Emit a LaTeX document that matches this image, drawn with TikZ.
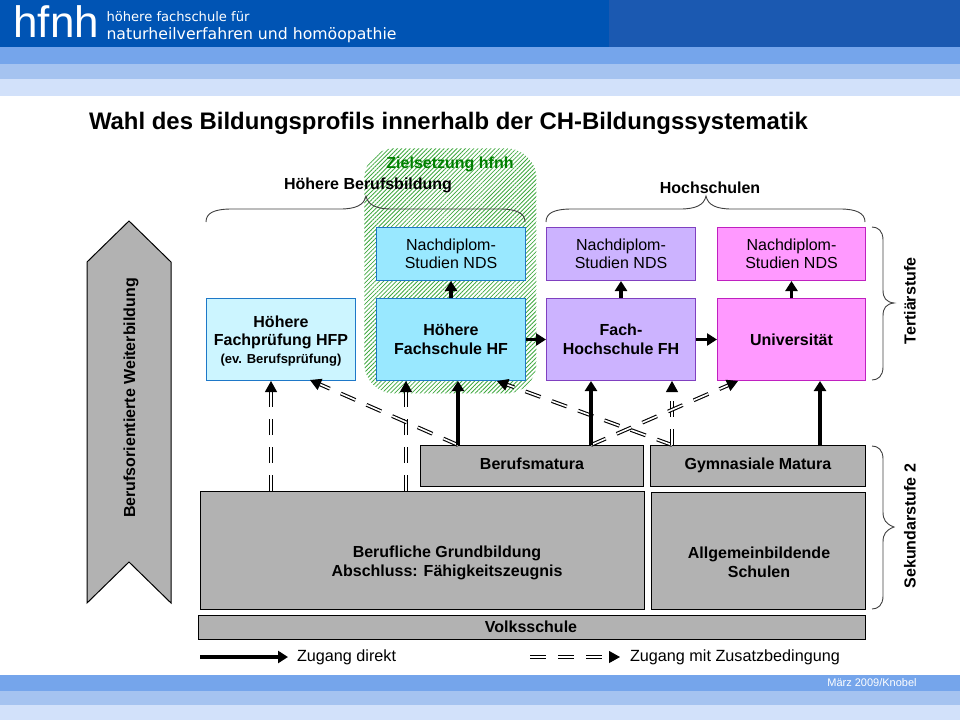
\documentclass[tikz,border=0pt]{standalone}
\usepackage{fontspec}
\setmainfont{Liberation Sans}
\newfontfamily\logofont{DejaVu Sans}
\usetikzlibrary{arrows.meta,patterns.meta}
\definecolor{kopfblau}{HTML}{0054B4}
\definecolor{kopfblaurechts}{HTML}{1B59B1}
\definecolor{bandeins}{HTML}{75A5EB}
\definecolor{bandzwei}{HTML}{A5C3F0}
\definecolor{banddrei}{HTML}{D2E1FA}
\definecolor{grau}{HTML}{B2B2B2}
\definecolor{hfp}{HTML}{CCF5FF}
\definecolor{hf}{HTML}{99E8FF}
\definecolor{fh}{HTML}{CCB3FF}
\definecolor{uni}{HTML}{FF99FF}
\definecolor{randblau}{HTML}{1E78C8}
\definecolor{randviolett}{HTML}{8040C0}
\definecolor{randmagenta}{HTML}{C020C0}
\definecolor{zielgruen}{HTML}{008000}
\definecolor{schraffur}{HTML}{3FA83F}
\tikzset{
  box/.style={draw,line width=1pt,minimum width=#1,inner sep=0pt,align=center,anchor=north west,font=\fontsize{16}{18.5}\selectfont},
  fett/.style={font=\fontsize{16}{19}\selectfont\bfseries},
  graubox/.style={box=#1,draw=black,fill=grau,fett},
  klammer/.style={draw=black!75,line width=0.9pt},
  direkt/.style={line width=3.5pt,-{Triangle[length=10pt,width=12pt]}},
  zusatz/.style={double=white,double distance=1.6pt,line width=1.1pt,dash pattern=on 16pt off 12pt,-{Triangle[length=11pt,width=12pt]}},
}
\begin{document}
\begin{tikzpicture}[x=1pt,y=-1pt]
\useasboundingbox (0,0) rectangle (960,720);
% kopf und fuss
\fill[kopfblau] (0,0) rectangle (609,47);
\fill[kopfblaurechts] (609,0) rectangle (960,47);
\foreach \ya/\yb/\farbe in {47/64/bandeins,64/79/bandzwei,79/96/banddrei,675/691/bandeins,691/705/bandzwei,705/720/banddrei}
  \fill[\farbe] (0,\ya) rectangle (960,\yb);
\node[text=white,anchor=west,font=\fontsize{44}{44}\selectfont] (logo) at (10,22) {hfnh};
\node[text=white,anchor=west,font=\logofont\fontsize{13.1}{14}\selectfont] (logozeilea) at (103,16.5) {höhere fachschule für};
\node[text=white,anchor=west,font=\logofont\fontsize{15.7}{16}\selectfont] (logozeileb) at (103,35.5) {naturheilverfahren und homöopathie};
\node[text=white,font=\fontsize{11}{11}\selectfont] (fuss) at (872,683) {März 2009/Knobel};
\node[anchor=west,font=\fontsize{23.9}{24}\selectfont\bfseries] (titel) at (85.5,123.5) {Wahl des Bildungsprofils innerhalb der CH-Bildungssystematik};
% zielsetzung
\node[anchor=north west,minimum width=172pt,minimum height=245pt,rounded corners=30pt,inner sep=0pt,
  pattern={Lines[angle=45,distance=3pt,line width=0.8pt]},pattern color=schraffur] (ziel) at (364,148) {};
\node[text=zielgruen,fett] (zieltext) at (450,164) {Zielsetzung hfnh};
% kaesten
\node[box=149pt,minimum height=82pt,draw=randblau,fill=hfp,font=\fontsize{16}{18}\selectfont\bfseries] (fachpruefung) at (206,298)
  {\rule{0pt}{15pt}Höhere\\Fachprüfung HFP\\{\fontsize{13}{15}\selectfont (ev. Berufsprüfung)}};
\node[box=149pt,minimum height=82pt,draw=randblau,fill=hf,fett] (fachschule) at (376,298) {Höhere\\Fachschule HF};
\node[box=149pt,minimum height=82pt,draw=randviolett,fill=fh,fett] (hochschule) at (546,298) {Fach-\\Hochschule FH};
\node[box=148pt,minimum height=82pt,draw=randmagenta,fill=uni,fett] (universitaet) at (717,298) {Universität};
\node[box=149pt,minimum height=53pt,draw=randblau,fill=hf] (ndsa) at (376,227) {Nachdiplom-\\Studien NDS};
\node[box=149pt,minimum height=53pt,draw=randviolett,fill=fh] (ndsb) at (546,227) {Nachdiplom-\\Studien NDS};
\node[box=148pt,minimum height=53pt,draw=randmagenta,fill=uni] (ndsc) at (717,227) {Nachdiplom-\\Studien NDS};
\node[graubox=223pt,minimum height=41pt] (matura) at (420,445) {\strut Berufsmatura};
\node[graubox=215pt,minimum height=41pt] (gymnasium) at (650,445) {\strut Gymnasiale Matura};
\node[graubox=444pt,minimum height=118pt] (grundbildung) at (200,491) {};
\node[fett,align=center] (grundtext) at (447,563) {Berufliche Grundbildung\\Abschluss: Fähigkeitszeugnis};
\node[graubox=214pt,minimum height=117pt] (allgemein) at (651,492) {};
\node[fett,align=center] (allgemeintext) at (759,562) {Allgemeinbildende\\Schulen};
\node[graubox=667pt,minimum height=24pt] (volksschule) at (198,615) {};
\node[fett] (volkstext) at (531,627) {Volksschule};
% weiterbildung
\draw[fill=grau,line width=1pt] (129,221) -- (171,262) -- (171,603) -- (129,562) -- (87,603) -- (87,262) -- cycle;
\node[rotate=90,fett] (weiter) at (131,398) {Berufsorientierte Weiterbildung};
% klammern
\draw[klammer] (206,222) .. controls (206,213) and (214,209) .. (232,209) -- (340,209) .. controls (356,209) and (364,205) .. (366,196)
  .. controls (368,205) and (376,209) .. (392,209) -- (500,209) .. controls (516,209) and (525,213) .. (525,222);
\draw[klammer] (546,222) .. controls (546,213) and (554,209) .. (572,209) -- (680,209) .. controls (696,209) and (704,205) .. (706,196)
  .. controls (708,205) and (716,209) .. (732,209) -- (840,209) .. controls (856,209) and (865,213) .. (865,222);
\draw[klammer] (872,227) .. controls (878,227) and (883,231) .. (883,240) -- (883,290) .. controls (883,298) and (886,302) .. (894,303)
  .. controls (886,304) and (883,308) .. (883,316) -- (883,367) .. controls (883,376) and (878,380) .. (872,380);
\draw[klammer] (872,446) .. controls (878,446) and (883,450) .. (883,459) -- (883,512) .. controls (883,520) and (886,524) .. (894,527)
  .. controls (886,530) and (883,534) .. (883,542) -- (883,596) .. controls (883,605) and (878,609) .. (872,609);
\node[fett] (hbb) at (368,185) {Höhere Berufsbildung};
\node[fett] (hs) at (710,188) {Hochschulen};
\node[rotate=90,fett] (tert) at (910,301) {Tertiärstufe};
\node[rotate=90,fett] (sek) at (910,526) {Sekundarstufe 2};
% zugaenge
\coordinate (ga) at (271,491);
\coordinate (gb) at (406,491);
\coordinate (ma) at (458,445);
\coordinate (mb) at (591,445);
\coordinate (gc) at (672,445);
\coordinate (gd) at (820,445);
\coordinate (zfp) at (310,380);
\coordinate (zhf) at (497,381);
\coordinate (zun) at (738,381);
\draw[zusatz] (ga) -- (ga |- fachpruefung.south);
\draw[zusatz] (gb) -- (gb |- fachschule.south);
\draw[zusatz] (ma) -- (zfp);
\draw[zusatz] (gc) -- (zhf);
\draw[zusatz] (gc) -- (gc |- hochschule.south);
\draw[zusatz] (mb) -- (zun);
\draw[direkt] (ma) -- (ma |- fachschule.south);
\draw[direkt] (mb) -- (mb |- hochschule.south);
\draw[direkt] (gd) -- (gd |- universitaet.south);
\draw[direkt] (fachschule) -- (ndsa);
\draw[direkt] (hochschule) -- (ndsb);
\draw[direkt] (universitaet) -- (ndsc);
\draw[direkt] (fachschule) -- (hochschule);
\draw[direkt] (hochschule) -- (universitaet);
% legende
\coordinate (la) at (200,657);
\coordinate (lb) at (288,657);
\coordinate (lc) at (530,657);
\coordinate (ld) at (620,657);
\draw[direkt] (la) -- (lb);
\draw[zusatz] (lc) -- (ld);
\node[anchor=west,font=\fontsize{16.2}{16}\selectfont] (direkttext) at (293.5,657) {Zugang direkt};
\node[anchor=west,font=\fontsize{16.2}{16}\selectfont] (zusatztext) at (626.5,657) {Zugang mit Zusatzbedingung};
\end{tikzpicture}
\end{document}
